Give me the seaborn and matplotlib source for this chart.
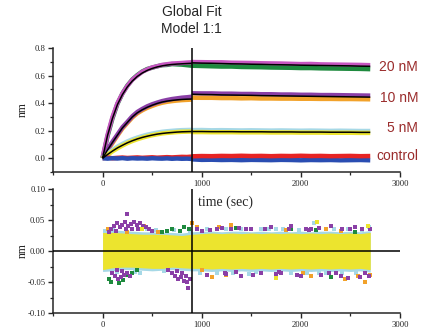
import matplotlib
matplotlib.use("Agg")
import matplotlib.pyplot as plt
from matplotlib.ticker import FormatStrFormatter, MultipleLocator
import seaborn as sns
import pandas as pd

# ---------------- data ----------------
t_assoc = [0, 50, 100, 150, 200, 250, 300, 350, 400, 450, 500, 550, 600, 650, 700, 750, 800, 850, 900]
t_dissoc = [900, 1000, 1100, 1200, 1300, 1400, 1500, 1600, 1700, 1800, 1900, 2000, 2100, 2200, 2300, 2400, 2500, 2600, 2700]

# 20 nM
fit20_a = [0.0, 0.165, 0.29, 0.39, 0.462, 0.518, 0.561, 0.594, 0.619, 0.638, 0.652, 0.663, 0.671, 0.677, 0.681, 0.684, 0.686, 0.688, 0.690]
fit20_d = [0.693, 0.691, 0.690, 0.688, 0.686, 0.685, 0.683, 0.682, 0.680, 0.679, 0.678, 0.676, 0.675, 0.674, 0.673, 0.672, 0.671, 0.669, 0.668]
mag20_a = [0.005, 0.17, 0.30, 0.40, 0.47, 0.525, 0.57, 0.60, 0.628, 0.645, 0.66, 0.668, 0.678, 0.683, 0.688, 0.69, 0.692, 0.695, 0.697]
grn20_a = [0.0, 0.16, 0.29, 0.395, 0.47, 0.528, 0.572, 0.604, 0.63, 0.648, 0.658, 0.668, 0.676, 0.678, 0.684, 0.682, 0.680, 0.676, 0.672]
mag20_d = [0.699, 0.698, 0.697, 0.697, 0.694, 0.693, 0.692, 0.690, 0.689, 0.688, 0.686, 0.684, 0.685, 0.682, 0.681, 0.680, 0.679, 0.678, 0.676]
grn20_d = [0.672, 0.670, 0.668, 0.666, 0.666, 0.663, 0.662, 0.661, 0.659, 0.658, 0.657, 0.655, 0.655, 0.653, 0.652, 0.651, 0.650, 0.649, 0.647]

# 10 nM
fit10_a = [0.0, 0.06, 0.115, 0.168, 0.22, 0.26, 0.30, 0.33, 0.352, 0.37, 0.385, 0.398, 0.408, 0.415, 0.42, 0.424, 0.427, 0.429, 0.430]
fit10_d = [0.465, 0.463, 0.462, 0.460, 0.459, 0.458, 0.457, 0.455, 0.454, 0.453, 0.452, 0.451, 0.450, 0.449, 0.448, 0.447, 0.446, 0.445, 0.444]
pur10_a = [0.005, 0.065, 0.12, 0.172, 0.225, 0.264, 0.305, 0.336, 0.358, 0.377, 0.392, 0.404, 0.415, 0.423, 0.43, 0.435, 0.44, 0.443, 0.447]
org10_a = [0.0, 0.057, 0.11, 0.164, 0.216, 0.256, 0.296, 0.326, 0.348, 0.366, 0.380, 0.393, 0.403, 0.41, 0.415, 0.419, 0.422, 0.424, 0.426]
pur10_d = [0.472, 0.471, 0.471, 0.469, 0.469, 0.467, 0.467, 0.465, 0.465, 0.463, 0.463, 0.461, 0.461, 0.459, 0.459, 0.458, 0.457, 0.456, 0.455]
org10_d = [0.440, 0.439, 0.439, 0.437, 0.437, 0.435, 0.436, 0.434, 0.434, 0.433, 0.433, 0.432, 0.432, 0.431, 0.431, 0.430, 0.430, 0.429, 0.428]

# 5 nM
fit5_a = [0.0, 0.027, 0.052, 0.075, 0.094, 0.112, 0.127, 0.140, 0.151, 0.160, 0.168, 0.175, 0.180, 0.184, 0.187, 0.190, 0.192, 0.193, 0.194]
fit5_d = [0.194, 0.194, 0.193, 0.193, 0.193, 0.192, 0.192, 0.192, 0.191, 0.191, 0.191, 0.190, 0.190, 0.190, 0.189, 0.189, 0.189, 0.188, 0.188]
yel5_a = [0.0, 0.025, 0.05, 0.072, 0.092, 0.11, 0.125, 0.138, 0.149, 0.159, 0.167, 0.174, 0.180, 0.184, 0.187, 0.190, 0.192, 0.193, 0.194]
blu5_a = [0.006, 0.034, 0.06, 0.084, 0.104, 0.122, 0.137, 0.150, 0.161, 0.171, 0.179, 0.186, 0.192, 0.196, 0.199, 0.202, 0.204, 0.205, 0.206]
yel5_d = [0.190, 0.190, 0.189, 0.189, 0.189, 0.188, 0.188, 0.188, 0.187, 0.187, 0.187, 0.186, 0.186, 0.186, 0.185, 0.185, 0.185, 0.184, 0.184]
blu5_d = [0.204, 0.205, 0.203, 0.204, 0.203, 0.202, 0.203, 0.202, 0.201, 0.202, 0.201, 0.200, 0.201, 0.200, 0.199, 0.200, 0.199, 0.198, 0.198]

# control
red_a = [0.0, 0.005, 0.0, 0.003, 0.005, 0.002, 0.004, 0.006, 0.003, 0.005, 0.007, 0.004, 0.006, 0.008, 0.006, 0.008, 0.010, 0.009, 0.012]
blue_a = [0.0, -0.003, 0.0, -0.002, 0.001, -0.003, 0.0, -0.002, -0.001, -0.003, 0.0, -0.002, -0.003, -0.001, -0.004, -0.002, -0.004, -0.003, -0.005]
red_d = [0.014, 0.016, 0.015, 0.017, 0.016, 0.018, 0.016, 0.017, 0.015, 0.017, 0.016, 0.018, 0.016, 0.017, 0.015, 0.016, 0.017, 0.015, 0.016]
blue_d = [-0.008, -0.012, -0.011, -0.013, -0.012, -0.014, -0.012, -0.013, -0.014, -0.012, -0.013, -0.015, -0.013, -0.014, -0.013, -0.015, -0.014, -0.013, -0.015]

conc_labels = ["20 nM", "10 nM", "5 nM", "control"]

# residuals: yellow core band and light-blue fringe (envelopes), plus outlier points
t_res = [0, 100, 200, 300, 400, 500, 600, 700, 800, 900, 1000, 1100, 1200, 1300, 1400,
         1500, 1600, 1700, 1800, 1900, 2000, 2100, 2200, 2300, 2400, 2500, 2600, 2700]
yel_hi = [0.030, 0.030, 0.029, 0.028, 0.027, 0.027, 0.027, 0.026, 0.025, 0.027, 0.028, 0.029, 0.028, 0.029,
          0.028, 0.029, 0.028, 0.029, 0.028, 0.029, 0.028, 0.029, 0.028, 0.029, 0.028, 0.029, 0.028, 0.030]
yel_lo = [-0.030, -0.027, -0.026, -0.026, -0.027, -0.028, -0.028, -0.026, -0.027, -0.028, -0.028, -0.029, -0.028, -0.029,
          -0.028, -0.029, -0.028, -0.029, -0.028, -0.029, -0.028, -0.029, -0.028, -0.029, -0.028, -0.029, -0.028, -0.030]
cyan_hi = [0.033, 0.034, 0.033, 0.032, 0.031, 0.031, 0.030, 0.030, 0.029, 0.031, 0.032, 0.032, 0.031, 0.032,
           0.032, 0.031, 0.032, 0.031, 0.032, 0.031, 0.032, 0.031, 0.032, 0.032, 0.031, 0.032, 0.031, 0.033]
cyan_lo = [-0.033, -0.032, -0.030, -0.030, -0.031, -0.032, -0.031, -0.030, -0.031, -0.032, -0.032, -0.033, -0.032, -0.033,
           -0.032, -0.033, -0.032, -0.033, -0.032, -0.033, -0.032, -0.033, -0.032, -0.033, -0.032, -0.033, -0.032, -0.034]

pur_t = [60, 80, 120, 140, 150, 180, 200, 230, 240, 250, 260, 290, 300, 320, 350, 360, 380, 410, 440, 470, 500,
         100, 130, 150, 160, 190, 200, 220, 250, 280,
         660, 700, 730, 750, 760, 790, 800, 820, 840, 850, 860, 880,
         950, 1000, 1050, 1150, 1250, 1300, 1350, 1400, 1500, 1600, 1700, 1800, 1900, 2000,
         2100, 2200, 2300, 2400, 2500, 2600, 2650, 2700, 1200, 1450, 1750, 2050, 2350, 2550,
         1080, 1230, 1380, 1520, 1640, 1780, 1880, 1960, 2080, 2180, 2280, 2420, 2480, 2620, 2690]
pur_r = [0.030, 0.035, 0.040, 0.033, 0.045, 0.038, 0.042, 0.047, 0.035, 0.060, 0.040, 0.044, 0.036, 0.046, 0.042, 0.035, 0.045, 0.040, 0.038, 0.036, 0.033,
         -0.035, -0.040, -0.030, -0.045, -0.042, -0.032, -0.038, -0.035, -0.040,
         -0.030, -0.035, -0.040, -0.032, -0.045, -0.042, -0.035, -0.048, -0.040, -0.050, -0.060, -0.045,
         0.035, 0.032, -0.038, 0.036, -0.037, 0.035, -0.034, -0.040, 0.036, -0.035, 0.038, -0.036, 0.040, -0.040,
         0.036, -0.038, 0.040, -0.040, 0.036, -0.042, -0.035, 0.035, 0.037, 0.036, -0.037, 0.035, -0.036, 0.038,
         0.034, -0.035, 0.037, -0.038, 0.035, -0.034, 0.036, -0.039, 0.034, 0.037, -0.035, 0.035, -0.044, 0.036, -0.040]
grn_t = [60, 90, 130, 170, 210, 250, 300, 350, 600, 650, 700, 780, 820, 870, 1700, 1900, 2150, 2300, 2550, 1350]
grn_r = [-0.045, -0.050, -0.040, -0.052, -0.047, -0.038, -0.035, -0.031, 0.030, 0.033, 0.035, 0.032, 0.038, 0.035, 0.038, 0.036, 0.034, -0.042, 0.031, 0.037]
org_t = [50, 250, 420, 560, 900, 950, 1000, 1100, 1170, 1300, 1600, 2020, 2100, 2400, 2580, 2650,
         1250, 1500, 1850, 2250, 2450, 2700]
org_r = [0.035, 0.030, 0.040, 0.030, 0.045, 0.038, -0.030, -0.042, 0.038, 0.042, -0.035, -0.035, -0.040, 0.033, -0.040, -0.050,
         -0.038, 0.036, 0.034, 0.035, -0.045, -0.038]
cyan_t = [20, 330, 540, 980, 1250, 1480, 1820, 2130, 2420, 2690, 1600, 2250,
          150, 450, 620, 720, 1050, 1150, 1320, 1400, 1550, 1680, 1750, 1900, 1980, 2060, 2180, 2330, 2480, 2560, 2620, 110, 380, 880]
cyan_r = [0.033, -0.034, 0.034, -0.036, 0.036, -0.037, 0.035, 0.045, -0.036, 0.038, 0.036, -0.035,
          -0.034, 0.035, -0.033, 0.034, 0.036, -0.035, -0.036, 0.035, -0.034, 0.036, 0.035, -0.036, 0.034, -0.035,
          -0.036, 0.035, 0.036, -0.035, 0.034, 0.036, -0.035, 0.033]
yout_t = [2160, 1750, 2680, 400]
yout_r = [0.047, -0.043, 0.040, 0.036]

# ---------------- style ----------------
sns.set_style("ticks")
plt.rcParams["font.family"] = ["Liberation Serif", "DejaVu Serif"]

C_MAG, C_GRN = "#c656c0", "#1e8a3e"
C_PUR, C_ORG = "#8a3fa6", "#f2a22a"
C_YEL, C_CYN = "#ece42e", "#a6d8e6"
C_RED, C_BLU = "#e62424", "#2a4db2"
C_LBL = "#9a2c2c"

fig = plt.figure(figsize=(4.32, 3.33), dpi=100)
ax1 = fig.add_axes([0.1227, 0.4835, 0.8032, 0.372])
ax2 = fig.add_axes([0.1227, 0.060, 0.8032, 0.3724])

TW = 3.2   # trace line width (noisy band)

def trace(ax, x, y, c, lw=TW, z=2):
    sns.lineplot(x=x, y=y, color=c, lw=lw, ax=ax, sort=False, estimator=None,
                 zorder=z, solid_capstyle="butt")

# top: sensorgrams
for xs, pairs in [(t_assoc, [(grn20_a, C_GRN), (mag20_a, C_MAG), (org10_a, C_ORG), (pur10_a, C_PUR),
                             (blu5_a, C_CYN), (yel5_a, C_YEL), (red_a, C_RED), (blue_a, C_BLU)]),
                  (t_dissoc, [(mag20_d, C_MAG), (grn20_d, C_GRN), (pur10_d, C_PUR), (org10_d, C_ORG),
                              (blu5_d, C_CYN), (yel5_d, C_YEL), (blue_d, C_BLU), (red_d, C_RED)])]:
    for ys, c in pairs:
        trace(ax1, xs, ys, c)

for xs, ys in [(t_assoc, fit20_a), (t_dissoc, fit20_d), (t_assoc, fit10_a), (t_dissoc, fit10_d),
               (t_assoc, fit5_a), (t_dissoc, fit5_d)]:
    trace(ax1, xs, ys, "black", lw=1.1, z=3)

ax1.axvline(900, color="black", lw=1.1, zorder=4)

# bottom: residuals
ax2.fill_between(t_res, cyan_lo, cyan_hi, color=C_CYN, lw=0, zorder=1)
ax2.fill_between(t_res, yel_lo, yel_hi, color=C_YEL, lw=0, zorder=2)
for xs, ys, c in [(cyan_t, cyan_r, C_CYN), (org_t, org_r, C_ORG), (grn_t, grn_r, C_GRN),
                  (pur_t, pur_r, C_PUR), (yout_t, yout_r, C_YEL)]:
    sns.scatterplot(x=xs, y=ys, color=c, marker="s", s=7, linewidth=0, ax=ax2, zorder=3)
ax2.axhline(0, color="black", lw=1.1, zorder=5)
ax2.axvline(900, color="black", lw=1.1, zorder=5)

# axes formatting
for ax in (ax1, ax2):
    ax.set_xlim(-500, 3000)
    ax.set_xticks([0, 1000, 2000, 3000])
    ax.xaxis.set_minor_locator(MultipleLocator(500))
    for s in ("top", "right"):
        ax.spines[s].set_visible(False)
    for s in ("left", "bottom"):
        ax.spines[s].set_linewidth(1.1)
    ax.tick_params(which="major", direction="out", length=3.5, width=1.0, labelsize=6.2, pad=2)
    ax.tick_params(which="minor", direction="out", length=2.0, width=0.9)
    ax.set_xlabel("")
    ax.set_ylabel("nm", fontsize=8.5)
    ax.yaxis.set_label_coords(-0.07, 0.5)

ax1.set_ylim(-0.1, 0.8)
ax1.set_yticks([0.0, 0.2, 0.4, 0.6, 0.8])
ax1.yaxis.set_minor_locator(MultipleLocator(0.1))
ax1.yaxis.set_major_formatter(FormatStrFormatter("%.1f"))

ax2.set_ylim(-0.10, 0.10)
ax2.set_yticks([-0.10, -0.05, 0.0, 0.05, 0.10])
ax2.yaxis.set_minor_locator(MultipleLocator(0.025))
ax2.yaxis.set_major_formatter(FormatStrFormatter("%.2f"))

# texts
fig.text(0.444, 0.985, "Global Fit\nModel 1:1", ha="center", va="top", fontsize=10,
         family=["Liberation Sans", "DejaVu Sans"], linespacing=1.25)
fig.text(0.5225, 0.393, "time (sec)", ha="center", va="center", fontsize=10)
for lbl, ypx in zip(conc_labels, [67, 98, 128, 156]):
    fig.text(418 / 432, 1 - ypx / 333, lbl, ha="right", va="center", fontsize=10,
             color=C_LBL, family=["Liberation Sans", "DejaVu Sans"])

fig.savefig("out.png", dpi=100)
